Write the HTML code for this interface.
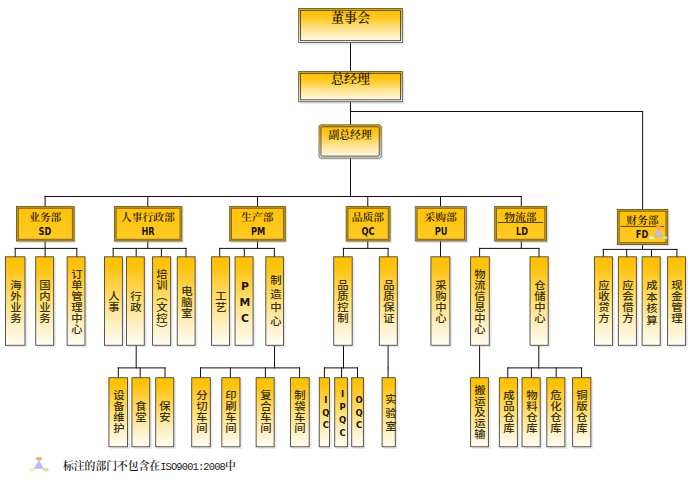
<!DOCTYPE html>
<html lang="zh-CN">
<head>
<meta charset="utf-8">
<title>组织架构图</title>
<style>
html,body{margin:0;padding:0;background:#fff;}
body{width:700px;height:492px;position:relative;overflow:hidden;font-family:"Liberation Serif","Noto Serif CJK SC",serif;color:#2a2100;}
#chart{position:absolute;left:0;top:0;width:700px;height:492px;}
svg.g{position:absolute;left:0;top:0;}
.t{position:absolute;white-space:nowrap;text-align:center;font-weight:600;line-height:1;transform:translateX(-50%);}
.c{position:absolute;white-space:nowrap;text-align:center;font-family:"DejaVu Sans","Liberation Sans",sans-serif;font-weight:bold;font-size:9.7px;line-height:1;color:#1a1400;transform:translateX(-50%) scaleX(.85);}
.v{position:absolute;display:flex;align-items:center;justify-content:center;writing-mode:vertical-rl;text-orientation:upright;font-family:"Liberation Sans","Noto Sans CJK SC",sans-serif;font-size:10.5px;line-height:1;font-weight:500;white-space:nowrap;letter-spacing:0.5px;color:#3a3208;transform:translate(-50%,-50%) scaleX(1.08);}
.v.l{font-family:"DejaVu Sans","Liberation Sans",sans-serif;font-weight:bold;font-size:8.5px;color:#1a1400;transform:translate(-50%,-50%);}
#note{position:absolute;left:63.0px;top:458.6px;font-size:10.8px;line-height:14px;white-space:nowrap;color:#1c1c1c;font-weight:600;}
#note b{font-weight:500;font-family:"Liberation Mono","Noto Sans CJK SC",monospace;font-size:10.4px;letter-spacing:-0.84px;}
</style>
</head>
<body>
<div id="chart">
<svg class="g" width="700" height="492" viewBox="0 0 700 492">
<defs>
<linearGradient id="gV" x1="0" y1="0" x2="0" y2="1">
<stop offset="0" stop-color="#ffc000"/><stop offset="0.13" stop-color="#ffc410"/><stop offset="0.47" stop-color="#ffdc6e"/><stop offset="0.77" stop-color="#fff0c6"/><stop offset="1" stop-color="#fffcf2"/>
</linearGradient>
<linearGradient id="gTop" x1="0" y1="0" x2="0" y2="1">
<stop offset="0" stop-color="#ffc000"/><stop offset="0.25" stop-color="#ffc820"/><stop offset="0.6" stop-color="#ffe28a"/><stop offset="1" stop-color="#fff8e4"/>
</linearGradient>
<linearGradient id="gTopGap" x1="0" y1="0" x2="0" y2="1">
<stop offset="0" stop-color="#e0ad10"/><stop offset="0.5" stop-color="#f0d88a"/><stop offset="1" stop-color="#fbfaf4"/>
</linearGradient>
<linearGradient id="gTopOut" x1="0" y1="0" x2="0" y2="1">
<stop offset="0" stop-color="#6f5d1c"/><stop offset="1" stop-color="#5c5c5c"/>
</linearGradient>
<linearGradient id="gDep" x1="0" y1="0" x2="0" y2="1">
<stop offset="0" stop-color="#ffc208"/><stop offset="1" stop-color="#ffca26"/>
</linearGradient>
</defs>
<line x1="350.5" y1="43.0" x2="350.5" y2="71.0" stroke="#101010" stroke-width="1.0" stroke-linecap="square"/>
<line x1="350.5" y1="102.2" x2="350.5" y2="124.4" stroke="#101010" stroke-width="1.0" stroke-linecap="square"/>
<line x1="350.5" y1="158.5" x2="350.5" y2="196.5" stroke="#101010" stroke-width="1.0" stroke-linecap="square"/>
<line x1="350.5" y1="111.5" x2="642.6" y2="111.5" stroke="#101010" stroke-width="1.0" stroke-linecap="square"/>
<line x1="642.6" y1="111.5" x2="642.6" y2="209.3" stroke="#101010" stroke-width="1.0" stroke-linecap="square"/>
<line x1="45.1" y1="196.5" x2="521.3" y2="196.5" stroke="#101010" stroke-width="1.0" stroke-linecap="square"/>
<line x1="45.1" y1="196.5" x2="45.1" y2="206.2" stroke="#101010" stroke-width="1.0" stroke-linecap="square"/>
<line x1="45.1" y1="241.3" x2="45.1" y2="248.4" stroke="#101010" stroke-width="1.0" stroke-linecap="square"/>
<line x1="15.2" y1="248.4" x2="76.8" y2="248.4" stroke="#101010" stroke-width="1.0" stroke-linecap="square"/>
<line x1="15.2" y1="248.4" x2="15.2" y2="256.4" stroke="#101010" stroke-width="1.0" stroke-linecap="square"/>
<line x1="45.1" y1="248.4" x2="45.1" y2="256.4" stroke="#101010" stroke-width="1.0" stroke-linecap="square"/>
<line x1="76.8" y1="248.4" x2="76.8" y2="256.4" stroke="#101010" stroke-width="1.0" stroke-linecap="square"/>
<line x1="147.8" y1="196.5" x2="147.8" y2="206.2" stroke="#101010" stroke-width="1.0" stroke-linecap="square"/>
<line x1="147.8" y1="241.3" x2="147.8" y2="248.4" stroke="#101010" stroke-width="1.0" stroke-linecap="square"/>
<line x1="113.2" y1="248.4" x2="186" y2="248.4" stroke="#101010" stroke-width="1.0" stroke-linecap="square"/>
<line x1="113.2" y1="248.4" x2="113.2" y2="256.4" stroke="#101010" stroke-width="1.0" stroke-linecap="square"/>
<line x1="136.2" y1="248.4" x2="136.2" y2="256.4" stroke="#101010" stroke-width="1.0" stroke-linecap="square"/>
<line x1="161.4" y1="248.4" x2="161.4" y2="256.4" stroke="#101010" stroke-width="1.0" stroke-linecap="square"/>
<line x1="186" y1="248.4" x2="186" y2="256.4" stroke="#101010" stroke-width="1.0" stroke-linecap="square"/>
<line x1="257.5" y1="196.5" x2="257.5" y2="206.2" stroke="#101010" stroke-width="1.0" stroke-linecap="square"/>
<line x1="257.5" y1="241.3" x2="257.5" y2="248.4" stroke="#101010" stroke-width="1.0" stroke-linecap="square"/>
<line x1="219.7" y1="248.4" x2="274.4" y2="248.4" stroke="#101010" stroke-width="1.0" stroke-linecap="square"/>
<line x1="219.7" y1="248.4" x2="219.7" y2="256.4" stroke="#101010" stroke-width="1.0" stroke-linecap="square"/>
<line x1="244.3" y1="248.4" x2="244.3" y2="256.4" stroke="#101010" stroke-width="1.0" stroke-linecap="square"/>
<line x1="274.4" y1="248.4" x2="274.4" y2="256.4" stroke="#101010" stroke-width="1.0" stroke-linecap="square"/>
<line x1="367.8" y1="196.5" x2="367.8" y2="206.2" stroke="#101010" stroke-width="1.0" stroke-linecap="square"/>
<line x1="367.8" y1="241.3" x2="367.8" y2="248.4" stroke="#101010" stroke-width="1.0" stroke-linecap="square"/>
<line x1="343.4" y1="248.4" x2="388.1" y2="248.4" stroke="#101010" stroke-width="1.0" stroke-linecap="square"/>
<line x1="343.4" y1="248.4" x2="343.4" y2="256.4" stroke="#101010" stroke-width="1.0" stroke-linecap="square"/>
<line x1="388.1" y1="248.4" x2="388.1" y2="256.4" stroke="#101010" stroke-width="1.0" stroke-linecap="square"/>
<line x1="440.5" y1="196.5" x2="440.5" y2="206.2" stroke="#101010" stroke-width="1.0" stroke-linecap="square"/>
<line x1="440.5" y1="241.3" x2="440.5" y2="248.4" stroke="#101010" stroke-width="1.0" stroke-linecap="square"/>
<line x1="440.5" y1="248.4" x2="440.5" y2="256.4" stroke="#101010" stroke-width="1.0" stroke-linecap="square"/>
<line x1="521.3" y1="196.5" x2="521.3" y2="206.2" stroke="#101010" stroke-width="1.0" stroke-linecap="square"/>
<line x1="521.3" y1="241.3" x2="521.3" y2="248.4" stroke="#101010" stroke-width="1.0" stroke-linecap="square"/>
<line x1="479.6" y1="248.4" x2="539" y2="248.4" stroke="#101010" stroke-width="1.0" stroke-linecap="square"/>
<line x1="479.6" y1="248.4" x2="479.6" y2="256.4" stroke="#101010" stroke-width="1.0" stroke-linecap="square"/>
<line x1="539" y1="248.4" x2="539" y2="256.4" stroke="#101010" stroke-width="1.0" stroke-linecap="square"/>
<line x1="642.6" y1="244.7" x2="642.6" y2="249.4" stroke="#101010" stroke-width="1.0" stroke-linecap="square"/>
<line x1="603.3" y1="249.4" x2="676.9" y2="249.4" stroke="#101010" stroke-width="1.0" stroke-linecap="square"/>
<line x1="603.3" y1="249.4" x2="603.3" y2="256.4" stroke="#101010" stroke-width="1.0" stroke-linecap="square"/>
<line x1="626.7" y1="249.4" x2="626.7" y2="256.4" stroke="#101010" stroke-width="1.0" stroke-linecap="square"/>
<line x1="651.5" y1="249.4" x2="651.5" y2="256.4" stroke="#101010" stroke-width="1.0" stroke-linecap="square"/>
<line x1="676.9" y1="249.4" x2="676.9" y2="256.4" stroke="#101010" stroke-width="1.0" stroke-linecap="square"/>
<line x1="136.2" y1="345.7" x2="136.2" y2="367.9" stroke="#101010" stroke-width="1.0" stroke-linecap="square"/>
<line x1="118.3" y1="367.9" x2="165" y2="367.9" stroke="#101010" stroke-width="1.0" stroke-linecap="square"/>
<line x1="118.3" y1="367.9" x2="118.3" y2="377.3" stroke="#101010" stroke-width="1.0" stroke-linecap="square"/>
<line x1="140.2" y1="367.9" x2="140.2" y2="377.3" stroke="#101010" stroke-width="1.0" stroke-linecap="square"/>
<line x1="165" y1="367.9" x2="165" y2="377.3" stroke="#101010" stroke-width="1.0" stroke-linecap="square"/>
<line x1="274.5" y1="345.7" x2="274.5" y2="367.9" stroke="#101010" stroke-width="1.0" stroke-linecap="square"/>
<line x1="200.5" y1="367.9" x2="299.6" y2="367.9" stroke="#101010" stroke-width="1.0" stroke-linecap="square"/>
<line x1="200.5" y1="367.9" x2="200.5" y2="377.3" stroke="#101010" stroke-width="1.0" stroke-linecap="square"/>
<line x1="230.4" y1="367.9" x2="230.4" y2="377.3" stroke="#101010" stroke-width="1.0" stroke-linecap="square"/>
<line x1="265.4" y1="367.9" x2="265.4" y2="377.3" stroke="#101010" stroke-width="1.0" stroke-linecap="square"/>
<line x1="299.6" y1="367.9" x2="299.6" y2="377.3" stroke="#101010" stroke-width="1.0" stroke-linecap="square"/>
<line x1="343.5" y1="345.7" x2="343.5" y2="367.9" stroke="#101010" stroke-width="1.0" stroke-linecap="square"/>
<line x1="324.4" y1="367.9" x2="357.5" y2="367.9" stroke="#101010" stroke-width="1.0" stroke-linecap="square"/>
<line x1="324.4" y1="367.9" x2="324.4" y2="377.3" stroke="#101010" stroke-width="1.0" stroke-linecap="square"/>
<line x1="341.6" y1="367.9" x2="341.6" y2="377.3" stroke="#101010" stroke-width="1.0" stroke-linecap="square"/>
<line x1="357.5" y1="367.9" x2="357.5" y2="377.3" stroke="#101010" stroke-width="1.0" stroke-linecap="square"/>
<line x1="388.1" y1="345.7" x2="388.1" y2="367.9" stroke="#101010" stroke-width="1.0" stroke-linecap="square"/>
<line x1="388.1" y1="367.9" x2="388.1" y2="377.3" stroke="#101010" stroke-width="1.0" stroke-linecap="square"/>
<line x1="479.6" y1="345.7" x2="479.6" y2="367.9" stroke="#101010" stroke-width="1.0" stroke-linecap="square"/>
<line x1="479.6" y1="367.9" x2="479.6" y2="377.3" stroke="#101010" stroke-width="1.0" stroke-linecap="square"/>
<line x1="538.8" y1="345.7" x2="538.8" y2="367.9" stroke="#101010" stroke-width="1.0" stroke-linecap="square"/>
<line x1="507.8" y1="367.9" x2="581.6" y2="367.9" stroke="#101010" stroke-width="1.0" stroke-linecap="square"/>
<line x1="507.8" y1="367.9" x2="507.8" y2="377.3" stroke="#101010" stroke-width="1.0" stroke-linecap="square"/>
<line x1="531.4" y1="367.9" x2="531.4" y2="377.3" stroke="#101010" stroke-width="1.0" stroke-linecap="square"/>
<line x1="556.2" y1="367.9" x2="556.2" y2="377.3" stroke="#101010" stroke-width="1.0" stroke-linecap="square"/>
<line x1="581.6" y1="367.9" x2="581.6" y2="377.3" stroke="#101010" stroke-width="1.0" stroke-linecap="square"/>
<rect x="299.80" y="9.60" width="104.60" height="35.00" fill="#9a9aa6" opacity="0.25"/>
<rect x="298.65" y="8.45" width="103.70" height="34.10" fill="url(#gTopGap)" stroke="url(#gTopOut)" stroke-width="0.9"/>
<rect x="300.55" y="10.35" width="99.90" height="30.30" fill="url(#gTop)" stroke="#48453a" stroke-width="0.9"/>
<rect x="299.80" y="72.60" width="104.60" height="31.20" fill="#9a9aa6" opacity="0.25"/>
<rect x="298.65" y="71.45" width="103.70" height="30.30" fill="url(#gTopGap)" stroke="url(#gTopOut)" stroke-width="0.9"/>
<rect x="300.55" y="73.35" width="99.90" height="26.50" fill="url(#gTop)" stroke="#48453a" stroke-width="0.9"/>
<rect x="320.20" y="126.00" width="63.00" height="34.10" fill="#9a9aa6" opacity="0.25" rx="2"/>
<rect x="319.05" y="124.85" width="62.10" height="33.20" fill="url(#gTopGap)" stroke="url(#gTopOut)" stroke-width="0.9" rx="2"/>
<rect x="320.95" y="126.75" width="58.30" height="29.40" fill="url(#gTop)" stroke="#48453a" stroke-width="0.9" rx="1.2"/>
<rect x="17.50" y="207.50" width="58.60" height="35.50" fill="#9a9aa6" opacity="0.25"/>
<rect x="16.45" y="206.45" width="57.70" height="34.60" fill="#c79a1c" stroke="#6f5d1c" stroke-width="0.9"/>
<rect x="18.25" y="208.25" width="54.10" height="31.00" fill="url(#gDep)" stroke="#7a6214" stroke-width="0.9"/>
<rect x="6.90" y="258.20" width="20.30" height="89.30" fill="#9a9aa6" opacity="0.22"/>
<rect x="5.52" y="256.82" width="19.45" height="88.45" fill="url(#gV)" stroke="#3c3c38" stroke-width="0.85"/>
<rect x="37.10" y="258.20" width="18.80" height="89.30" fill="#9a9aa6" opacity="0.22"/>
<rect x="35.72" y="256.82" width="17.95" height="88.45" fill="url(#gV)" stroke="#3c3c38" stroke-width="0.85"/>
<rect x="68.50" y="258.20" width="18.70" height="89.30" fill="#9a9aa6" opacity="0.22"/>
<rect x="67.12" y="256.82" width="17.85" height="88.45" fill="url(#gV)" stroke="#3c3c38" stroke-width="0.85"/>
<rect x="115.40" y="207.50" width="68.40" height="35.50" fill="#9a9aa6" opacity="0.25"/>
<rect x="114.35" y="206.45" width="67.50" height="34.60" fill="#c79a1c" stroke="#6f5d1c" stroke-width="0.9"/>
<rect x="116.15" y="208.25" width="63.90" height="31.00" fill="url(#gDep)" stroke="#7a6214" stroke-width="0.9"/>
<rect x="105.80" y="258.20" width="18.80" height="89.30" fill="#9a9aa6" opacity="0.22"/>
<rect x="104.42" y="256.82" width="17.95" height="88.45" fill="url(#gV)" stroke="#3c3c38" stroke-width="0.85"/>
<rect x="127.80" y="258.20" width="18.70" height="89.30" fill="#9a9aa6" opacity="0.22"/>
<rect x="126.42" y="256.82" width="17.85" height="88.45" fill="url(#gV)" stroke="#3c3c38" stroke-width="0.85"/>
<rect x="154.00" y="258.20" width="18.90" height="89.30" fill="#9a9aa6" opacity="0.22"/>
<rect x="152.62" y="256.82" width="18.05" height="88.45" fill="url(#gV)" stroke="#3c3c38" stroke-width="0.85"/>
<rect x="178.60" y="258.20" width="18.70" height="89.30" fill="#9a9aa6" opacity="0.22"/>
<rect x="177.23" y="256.82" width="17.85" height="88.45" fill="url(#gV)" stroke="#3c3c38" stroke-width="0.85"/>
<rect x="230.70" y="207.50" width="56.60" height="35.50" fill="#9a9aa6" opacity="0.25"/>
<rect x="229.65" y="206.45" width="55.70" height="34.60" fill="#c79a1c" stroke="#6f5d1c" stroke-width="0.9"/>
<rect x="231.45" y="208.25" width="52.10" height="31.00" fill="url(#gDep)" stroke="#7a6214" stroke-width="0.9"/>
<rect x="213.00" y="258.20" width="18.70" height="89.30" fill="#9a9aa6" opacity="0.22"/>
<rect x="211.62" y="256.82" width="17.85" height="88.45" fill="url(#gV)" stroke="#3c3c38" stroke-width="0.85"/>
<rect x="236.40" y="258.20" width="18.90" height="89.30" fill="#9a9aa6" opacity="0.22"/>
<rect x="235.03" y="256.82" width="18.05" height="88.45" fill="url(#gV)" stroke="#3c3c38" stroke-width="0.85"/>
<rect x="267.20" y="258.20" width="18.50" height="89.30" fill="#9a9aa6" opacity="0.22"/>
<rect x="265.82" y="256.82" width="17.65" height="88.45" fill="url(#gV)" stroke="#3c3c38" stroke-width="0.85"/>
<rect x="347.20" y="207.50" width="44.80" height="35.50" fill="#9a9aa6" opacity="0.25"/>
<rect x="346.15" y="206.45" width="43.90" height="34.60" fill="#c79a1c" stroke="#6f5d1c" stroke-width="0.9"/>
<rect x="347.95" y="208.25" width="40.30" height="31.00" fill="url(#gDep)" stroke="#7a6214" stroke-width="0.9"/>
<rect x="335.10" y="258.20" width="19.30" height="89.30" fill="#9a9aa6" opacity="0.22"/>
<rect x="333.73" y="256.82" width="18.45" height="88.45" fill="url(#gV)" stroke="#3c3c38" stroke-width="0.85"/>
<rect x="380.70" y="258.20" width="18.80" height="89.30" fill="#9a9aa6" opacity="0.22"/>
<rect x="379.32" y="256.82" width="17.95" height="88.45" fill="url(#gV)" stroke="#3c3c38" stroke-width="0.85"/>
<rect x="416.30" y="207.50" width="52.00" height="35.50" fill="#9a9aa6" opacity="0.25"/>
<rect x="415.25" y="206.45" width="51.10" height="34.60" fill="#c79a1c" stroke="#6a6f7c" stroke-width="0.9"/>
<rect x="417.05" y="208.25" width="47.50" height="31.00" fill="url(#gDep)" stroke="#7a6214" stroke-width="0.9"/>
<rect x="432.30" y="258.20" width="19.80" height="89.30" fill="#9a9aa6" opacity="0.22"/>
<rect x="430.93" y="256.82" width="18.95" height="88.45" fill="url(#gV)" stroke="#3c3c38" stroke-width="0.85"/>
<rect x="495.70" y="207.50" width="52.90" height="35.50" fill="#9a9aa6" opacity="0.25"/>
<rect x="494.65" y="206.45" width="52.00" height="34.60" fill="#c79a1c" stroke="#6f5d1c" stroke-width="0.9"/>
<rect x="496.45" y="208.25" width="48.40" height="31.00" fill="url(#gDep)" stroke="#7a6214" stroke-width="0.9"/>
<line x1="497.80" y1="222.50" x2="543.10" y2="222.50" stroke="#3b3206" stroke-width="0.9"/>
<rect x="472.00" y="258.20" width="19.50" height="89.30" fill="#9a9aa6" opacity="0.22"/>
<rect x="470.62" y="256.82" width="18.65" height="88.45" fill="url(#gV)" stroke="#3c3c38" stroke-width="0.85"/>
<rect x="531.40" y="258.20" width="19.00" height="89.30" fill="#9a9aa6" opacity="0.22"/>
<rect x="530.02" y="256.82" width="18.15" height="88.45" fill="url(#gV)" stroke="#3c3c38" stroke-width="0.85"/>
<rect x="618.40" y="210.50" width="51.30" height="35.90" fill="#9a9aa6" opacity="0.25"/>
<rect x="617.35" y="209.45" width="50.40" height="35.00" fill="#c79a1c" stroke="#6f5d1c" stroke-width="0.9"/>
<rect x="619.15" y="211.25" width="46.80" height="31.40" fill="url(#gDep)" stroke="#7a6214" stroke-width="0.9"/>
<line x1="620.50" y1="226.40" x2="664.20" y2="226.40" stroke="#3b3206" stroke-width="0.9"/>
<rect x="595.90" y="258.20" width="18.90" height="89.30" fill="#9a9aa6" opacity="0.22"/>
<rect x="594.52" y="256.82" width="18.05" height="88.45" fill="url(#gV)" stroke="#3c3c38" stroke-width="0.85"/>
<rect x="619.70" y="258.20" width="18.90" height="89.30" fill="#9a9aa6" opacity="0.22"/>
<rect x="618.32" y="256.82" width="18.05" height="88.45" fill="url(#gV)" stroke="#3c3c38" stroke-width="0.85"/>
<rect x="643.50" y="258.20" width="18.90" height="89.30" fill="#9a9aa6" opacity="0.22"/>
<rect x="642.12" y="256.82" width="18.05" height="88.45" fill="url(#gV)" stroke="#3c3c38" stroke-width="0.85"/>
<rect x="669.00" y="258.20" width="18.80" height="89.30" fill="#9a9aa6" opacity="0.22"/>
<rect x="667.62" y="256.82" width="17.95" height="88.45" fill="url(#gV)" stroke="#3c3c38" stroke-width="0.85"/>
<rect x="110.30" y="379.10" width="19.50" height="69.90" fill="#9a9aa6" opacity="0.22"/>
<rect x="108.92" y="377.73" width="18.65" height="69.05" fill="url(#gV)" stroke="#3c3c38" stroke-width="0.85"/>
<rect x="133.30" y="379.10" width="18.70" height="69.90" fill="#9a9aa6" opacity="0.22"/>
<rect x="131.93" y="377.73" width="17.85" height="69.05" fill="url(#gV)" stroke="#3c3c38" stroke-width="0.85"/>
<rect x="157.10" y="379.10" width="18.90" height="69.90" fill="#9a9aa6" opacity="0.22"/>
<rect x="155.73" y="377.73" width="18.05" height="69.05" fill="url(#gV)" stroke="#3c3c38" stroke-width="0.85"/>
<rect x="193.10" y="379.10" width="19.40" height="69.90" fill="#9a9aa6" opacity="0.22"/>
<rect x="191.73" y="377.73" width="18.55" height="69.05" fill="url(#gV)" stroke="#3c3c38" stroke-width="0.85"/>
<rect x="223.20" y="379.10" width="19.00" height="69.90" fill="#9a9aa6" opacity="0.22"/>
<rect x="221.83" y="377.73" width="18.15" height="69.05" fill="url(#gV)" stroke="#3c3c38" stroke-width="0.85"/>
<rect x="257.50" y="379.10" width="18.90" height="69.90" fill="#9a9aa6" opacity="0.22"/>
<rect x="256.12" y="377.73" width="18.05" height="69.05" fill="url(#gV)" stroke="#3c3c38" stroke-width="0.85"/>
<rect x="291.80" y="379.10" width="19.60" height="69.90" fill="#9a9aa6" opacity="0.22"/>
<rect x="290.43" y="377.73" width="18.75" height="69.05" fill="url(#gV)" stroke="#3c3c38" stroke-width="0.85"/>
<rect x="320.60" y="379.10" width="11.10" height="69.90" fill="#9a9aa6" opacity="0.22"/>
<rect x="319.23" y="377.73" width="10.25" height="69.05" fill="url(#gV)" stroke="#3c3c38" stroke-width="0.85"/>
<rect x="336.10" y="379.10" width="13.60" height="69.90" fill="#9a9aa6" opacity="0.22"/>
<rect x="334.73" y="377.73" width="12.75" height="69.05" fill="url(#gV)" stroke="#3c3c38" stroke-width="0.85"/>
<rect x="353.10" y="379.10" width="12.50" height="69.90" fill="#9a9aa6" opacity="0.22"/>
<rect x="351.73" y="377.73" width="11.65" height="69.05" fill="url(#gV)" stroke="#3c3c38" stroke-width="0.85"/>
<rect x="383.50" y="379.10" width="14.00" height="69.90" fill="#9a9aa6" opacity="0.22"/>
<rect x="382.12" y="377.73" width="13.15" height="69.05" fill="url(#gV)" stroke="#3c3c38" stroke-width="0.85"/>
<rect x="472.00" y="379.10" width="18.60" height="69.90" fill="#9a9aa6" opacity="0.22"/>
<rect x="470.62" y="377.73" width="17.75" height="69.05" fill="url(#gV)" stroke="#3c3c38" stroke-width="0.85"/>
<rect x="500.70" y="379.10" width="18.90" height="69.90" fill="#9a9aa6" opacity="0.22"/>
<rect x="499.32" y="377.73" width="18.05" height="69.05" fill="url(#gV)" stroke="#3c3c38" stroke-width="0.85"/>
<rect x="523.40" y="379.10" width="19.00" height="69.90" fill="#9a9aa6" opacity="0.22"/>
<rect x="522.02" y="377.73" width="18.15" height="69.05" fill="url(#gV)" stroke="#3c3c38" stroke-width="0.85"/>
<rect x="548.20" y="379.10" width="18.90" height="69.90" fill="#9a9aa6" opacity="0.22"/>
<rect x="546.82" y="377.73" width="18.05" height="69.05" fill="url(#gV)" stroke="#3c3c38" stroke-width="0.85"/>
<rect x="574.00" y="379.10" width="19.10" height="69.90" fill="#9a9aa6" opacity="0.22"/>
<rect x="572.62" y="377.73" width="18.25" height="69.05" fill="url(#gV)" stroke="#3c3c38" stroke-width="0.85"/>
<g transform="translate(658.30,227.40) scale(0.95)"><polygon points="0,2 -4.6,9.6 4.6,9.6" fill="#bdbcf6" stroke="#aaa8e6" stroke-width="0.5"/><ellipse cx="0" cy="0" rx="2.9" ry="1.4" fill="#f8aa66" stroke="#ea8f44" stroke-width="0.5"/><ellipse cx="-6.8" cy="11.1" rx="2.9" ry="1.4" fill="#f2f6bc" stroke="#dfe59a" stroke-width="0.5"/><ellipse cx="6.8" cy="11" rx="2.9" ry="1.4" fill="#d0e6b0" stroke="#b4d48e" stroke-width="0.5"/></g>
<g transform="translate(38.90,458.80) scale(1.0)"><polygon points="0,2 -4.6,9.6 4.6,9.6" fill="#bdbcf6" stroke="#aaa8e6" stroke-width="0.5"/><ellipse cx="0" cy="0" rx="2.9" ry="1.4" fill="#f8aa66" stroke="#ea8f44" stroke-width="0.5"/><ellipse cx="-6.8" cy="11.1" rx="2.9" ry="1.4" fill="#f2f6bc" stroke="#dfe59a" stroke-width="0.5"/><ellipse cx="6.8" cy="11" rx="2.9" ry="1.4" fill="#d0e6b0" stroke="#b4d48e" stroke-width="0.5"/></g>
</svg>
<div class="t" style="left:350.50px;top:10.80px;font-size:13px">董事会</div>
<div class="t" style="left:350.50px;top:71.80px;font-size:13px">总经理</div>
<div class="t" style="left:350.10px;top:130.20px;font-size:10.8px">副总经理</div>
<div class="t" style="left:45.10px;top:212.10px;font-size:10.8px;transform:translateX(-50%) scaleY(.94)">业务部</div>
<div class="c" style="left:45.30px;top:227.10px">SD</div>
<div class="v" style="left:14.75px;top:301.75px">海外业务</div>
<div class="v" style="left:44.20px;top:301.75px">国内业务</div>
<div class="v" style="left:75.55px;top:301.75px">订单管理中心</div>
<div class="t" style="left:147.90px;top:212.10px;font-size:10.8px;transform:translateX(-50%) scaleY(.94)">人事行政部</div>
<div class="c" style="left:148.10px;top:227.10px">HR</div>
<div class="v" style="left:112.90px;top:301.75px">人事</div>
<div class="v" style="left:134.85px;top:301.75px">行政</div>
<div class="v" style="left:161.15px;top:301.75px">培训（文控）</div>
<div class="v" style="left:185.65px;top:301.75px">电脑室</div>
<div class="t" style="left:257.30px;top:212.10px;font-size:10.8px;transform:translateX(-50%) scaleY(.94)">生产部</div>
<div class="c" style="left:257.50px;top:227.10px">PM</div>
<div class="v" style="left:220.05px;top:301.75px">工艺</div>
<div class="v l" style="left:244.05px;top:303.60px;letter-spacing:2.80px;font-size:10.8px">PMC</div>
<div class="v" style="left:274.85px;top:301.85px;letter-spacing:2.90px">制造中心</div>
<div class="t" style="left:367.90px;top:212.10px;font-size:10.8px;transform:translateX(-50%) scaleY(.94)">品质部</div>
<div class="c" style="left:368.10px;top:227.10px">QC</div>
<div class="v" style="left:342.45px;top:301.75px">品质控制</div>
<div class="v" style="left:387.80px;top:301.75px">品质保证</div>
<div class="t" style="left:440.60px;top:212.10px;font-size:10.8px;transform:translateX(-50%) scaleY(.94)">采购部</div>
<div class="c" style="left:440.80px;top:227.10px">PU</div>
<div class="v" style="left:439.90px;top:301.75px">采购中心</div>
<div class="t" style="left:520.45px;top:212.10px;font-size:10.8px;transform:translateX(-50%) scaleY(.94)">物流部</div>
<div class="c" style="left:521.65px;top:227.10px">LD</div>
<div class="v" style="left:479.45px;top:301.75px">物流信息中心</div>
<div class="v" style="left:538.60px;top:301.75px">仓储中心</div>
<div class="t" style="left:642.35px;top:215.10px;font-size:10.8px;transform:translateX(-50%) scaleY(.94)">财务部</div>
<div class="c" style="left:642.15px;top:230.10px">FD</div>
<div class="v" style="left:603.05px;top:301.75px">应收贷方</div>
<div class="v" style="left:626.85px;top:301.75px">应会借方</div>
<div class="v" style="left:650.65px;top:302.70px;letter-spacing:1.00px">成本核算</div>
<div class="v" style="left:676.10px;top:301.75px">现金管理</div>
<div class="v" style="left:117.75px;top:412.35px">设备维护</div>
<div class="v" style="left:140.35px;top:412.35px">食堂</div>
<div class="v" style="left:164.25px;top:412.35px">保安</div>
<div class="v" style="left:200.50px;top:412.35px">分切车间</div>
<div class="v" style="left:230.40px;top:412.35px">印刷车间</div>
<div class="v" style="left:264.65px;top:412.35px">复合车间</div>
<div class="v" style="left:299.30px;top:412.35px">制袋车间</div>
<div class="v l" style="left:325.55px;top:414.20px;letter-spacing:2.60px">IQC</div>
<div class="v l" style="left:342.30px;top:414.50px;letter-spacing:3.20px">IPQC</div>
<div class="v l" style="left:358.75px;top:414.20px;letter-spacing:2.60px">OQC</div>
<div class="v" style="left:390.20px;top:413.75px;letter-spacing:2.70px">实验室</div>
<div class="v" style="left:479.00px;top:412.35px">搬运及运输</div>
<div class="v" style="left:507.85px;top:412.35px">成品仓库</div>
<div class="v" style="left:530.60px;top:412.35px">物料仓库</div>
<div class="v" style="left:555.35px;top:412.35px">危化仓库</div>
<div class="v" style="left:581.25px;top:412.35px">铜版仓库</div>
<div id="note">标注的部门不包含在<b>ISO9001:2008</b>中</div>
</div>
</body>
</html>
